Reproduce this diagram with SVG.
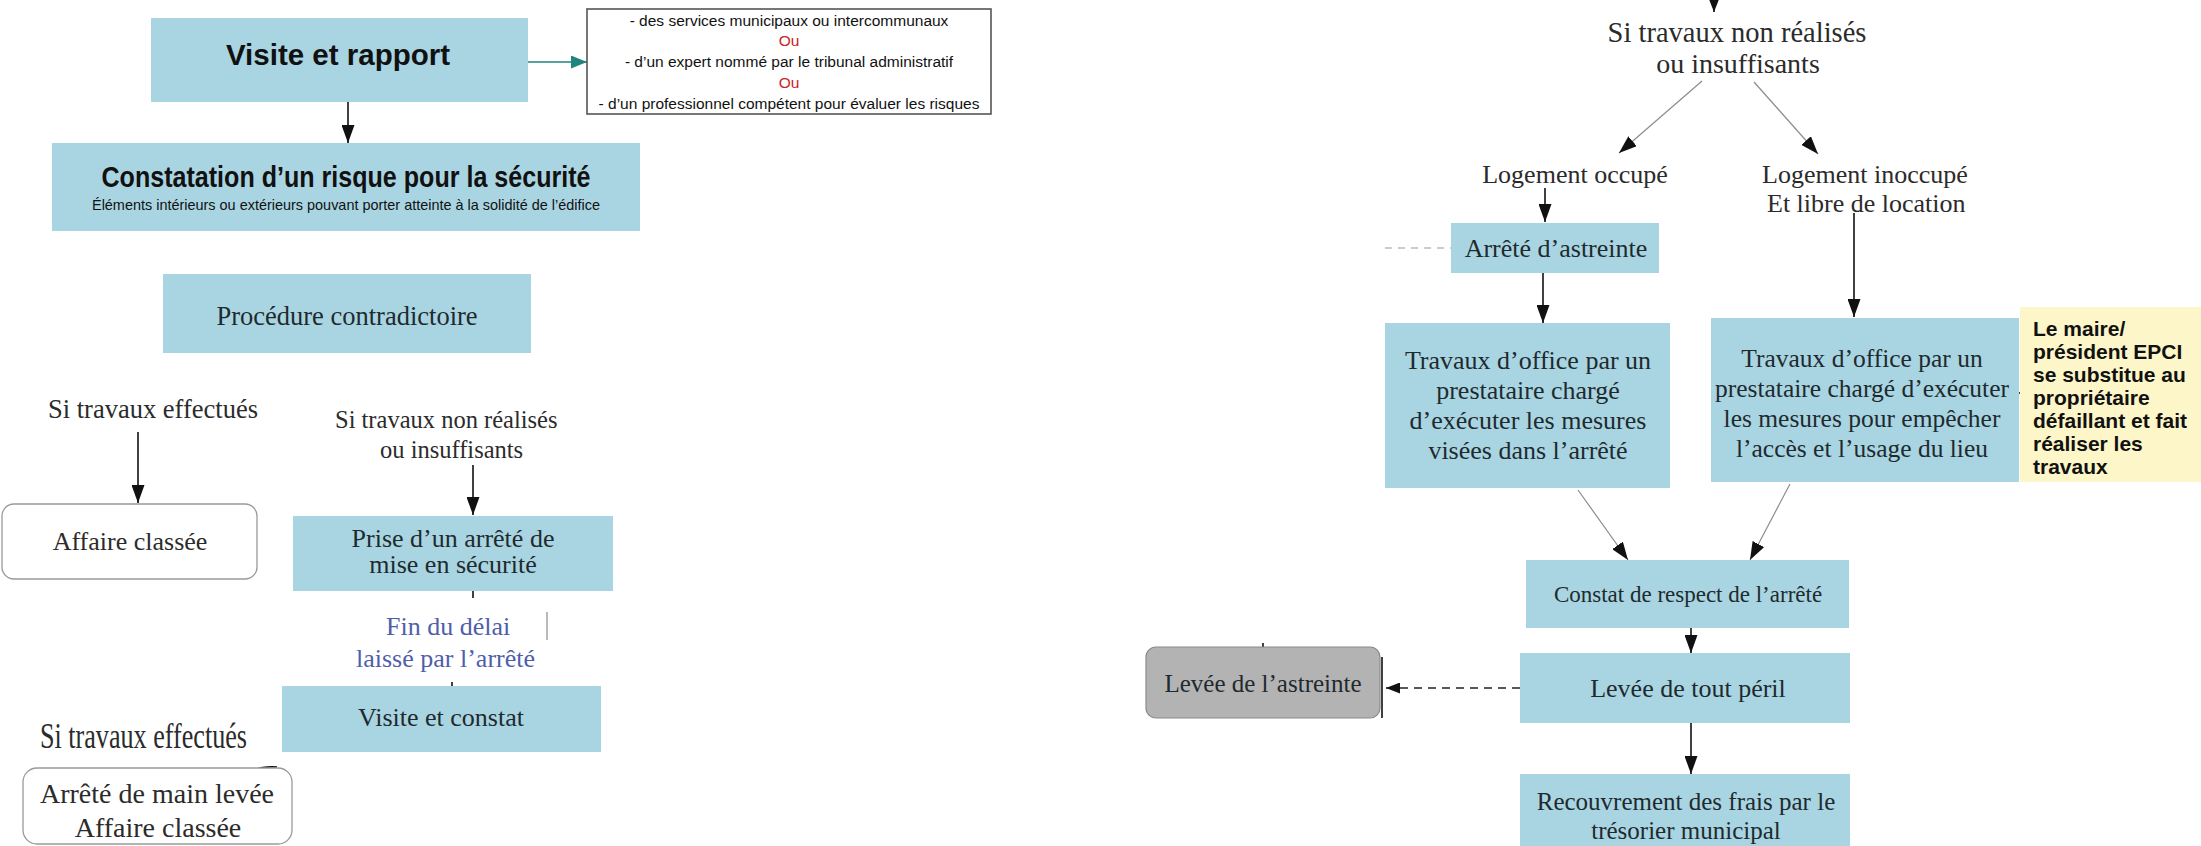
<svg xmlns="http://www.w3.org/2000/svg" width="2201" height="846" viewBox="0 0 2201 846">
<style>
.bg{fill:#ffffff}
.blue{fill:#a9d5e2}
.white{fill:#ffffff;stroke:#9a9a9a;stroke-width:1.3}
.grey{fill:#b3b3b3;stroke:#8a8a8a;stroke-width:1.2}
.yellow{fill:#fdf6c8}
.serif{font-family:"Liberation Serif","DejaVu Serif",serif;fill:#2b2b2b}
.inbox{fill:#1f2a2e}
.sans{font-family:"Liberation Sans",Arial,"DejaVu Sans",sans-serif;fill:#111}
.red{fill:#cc2222}
.bluet{fill:#4f5ea8}
.conn{stroke:#111;stroke-width:1.6;fill:none}
.thin{stroke:#8c8c8c;stroke-width:1.2;fill:none}
.dash{stroke:#999;stroke-width:1.2;stroke-dasharray:7,6;fill:none}
.dash2{stroke:#222;stroke-width:1.6;stroke-dasharray:8,6;fill:none}
.teal{stroke:#20857d;stroke-width:1.6;fill:none}
</style>
<defs>
<marker id="ah" markerUnits="userSpaceOnUse" markerWidth="14" markerHeight="11" viewBox="0 0 14 11" refX="14" refY="5.5" orient="auto"><path d="M0,0 L14,5.5 L0,11 z" fill="#111"/></marker>
<marker id="ahL" markerUnits="userSpaceOnUse" markerWidth="18" markerHeight="13" viewBox="0 0 18 13" refX="18" refY="6.5" orient="auto"><path d="M0,0 L18,6.5 L0,13 z" fill="#111"/></marker>
<marker id="ahT" markerUnits="userSpaceOnUse" markerWidth="16" markerHeight="13" viewBox="0 0 16 13" refX="16" refY="6.5" orient="auto"><path d="M0,0 L16,6.5 L0,13 z" fill="#20857d"/></marker>
</defs>
<rect class="bg" x="0" y="0" width="2201" height="846"/>

<g id="connectors">
<line class="teal" x1="528" y1="62" x2="587" y2="62" marker-end="url(#ahT)"/>
<line class="conn" x1="348" y1="102" x2="348" y2="143" marker-end="url(#ahL)"/>
<line class="conn" x1="348" y1="217" x2="348" y2="231"/>
<line class="conn" x1="138" y1="432" x2="138" y2="503" marker-end="url(#ahL)"/>
<line class="conn" x1="473" y1="465" x2="473" y2="515" marker-end="url(#ahL)"/>
<line class="conn" x1="473" y1="591" x2="473" y2="598"/>
<line class="conn" x1="452" y1="682" x2="452" y2="687"/>
<line class="thin" x1="547" y1="612" x2="547" y2="640"/>
<path class="conn" d="M252 771 Q262 766 277 767" stroke-width="2.5"/>
<line class="conn" x1="1714" y1="0" x2="1714" y2="12" marker-end="url(#ah)"/>
<line class="thin" x1="1702" y1="81" x2="1619" y2="153" marker-end="url(#ahL)"/>
<line class="thin" x1="1754" y1="82" x2="1818" y2="154" marker-end="url(#ahL)"/>
<line class="conn" x1="1545" y1="188" x2="1545" y2="222" marker-end="url(#ahL)"/>
<line class="dash" x1="1385" y1="248" x2="1451" y2="248"/>
<line class="conn" x1="1543" y1="273" x2="1543" y2="323" marker-end="url(#ahL)"/>
<line class="conn" x1="1854" y1="213" x2="1854" y2="317" marker-end="url(#ahL)"/>
<line class="conn" x1="2008" y1="393" x2="2020" y2="393"/>
<line class="thin" x1="1578" y1="490" x2="1628" y2="560" marker-end="url(#ahL)"/>
<line class="thin" x1="1790" y1="484" x2="1750" y2="560" marker-end="url(#ahL)"/>
<line class="conn" x1="1691" y1="628" x2="1691" y2="653" marker-end="url(#ahL)"/>
<line class="dash2" x1="1520" y1="688" x2="1386" y2="688" marker-end="url(#ah)"/>
<line class="conn" x1="1382" y1="657" x2="1382" y2="718" stroke-width="1"/>
<line class="conn" x1="1263" y1="643" x2="1263" y2="649"/>
<line class="conn" x1="1691" y1="723" x2="1691" y2="774" marker-end="url(#ahL)"/>
</g>

<g id="visite-rapport">
<rect class="blue" x="151" y="18" width="377" height="84"/>
<text class="sans" x="338" y="65" font-size="29.5" font-weight="bold" text-anchor="middle">Visite et rapport</text>
</g>

<g id="intervenants">
<rect x="587" y="9" width="404" height="105" fill="#ffffff" stroke="#555" stroke-width="1.6"/>
<text class="sans" x="789" y="26" font-size="15.5" text-anchor="middle">- des services municipaux ou intercommunaux</text>
<text class="sans red" x="789" y="46" font-size="15.5" text-anchor="middle">Ou</text>
<text class="sans" x="789" y="67" font-size="15.5" text-anchor="middle">- d’un expert nommé par le tribunal administratif</text>
<text class="sans red" x="789" y="88" font-size="15.5" text-anchor="middle">Ou</text>
<text class="sans" x="789" y="109" font-size="15.5" text-anchor="middle">- d’un professionnel compétent pour évaluer les risques</text>
</g>

<g id="constatation">
<rect class="blue" x="52" y="143" width="588" height="88"/>
<text class="sans" x="346" y="187" font-size="29" font-weight="bold" text-anchor="middle" textLength="489" lengthAdjust="spacingAndGlyphs">Constatation d’un risque pour la sécurité</text>
<text class="sans" x="346" y="210" font-size="15" text-anchor="middle" textLength="508" lengthAdjust="spacingAndGlyphs">Éléments intérieurs ou extérieurs pouvant porter atteinte à la solidité de l’édifice</text>
</g>

<g id="procedure">
<rect class="blue" x="163" y="274" width="368" height="79"/>
<text class="serif inbox" x="347" y="325" font-size="26.5" text-anchor="middle">Procédure contradictoire</text>
</g>

<g id="si-effectues-1">
<text class="serif" x="48" y="418" font-size="26.5">Si travaux effectués</text>
</g>

<g id="si-non-realises-1">
<text class="serif" x="335" y="428" font-size="24.5">Si travaux non réalisés</text>
<text class="serif" x="380" y="458" font-size="24.5">ou insuffisants</text>
</g>

<g id="affaire-classee-1">
<rect class="white" x="2" y="504" width="255" height="75" rx="12"/>
<text class="serif" x="130" y="550" font-size="26" text-anchor="middle">Affaire classée</text>
</g>

<g id="prise-arrete">
<rect class="blue" x="293" y="516" width="320" height="75"/>
<text class="serif inbox" x="453" y="547" font-size="26" text-anchor="middle">Prise d’un arrêté de</text>
<text class="serif inbox" x="453" y="573" font-size="26" text-anchor="middle">mise en sécurité</text>
</g>

<g id="fin-delai">
<text class="serif bluet" x="386" y="635" font-size="26">Fin du délai</text>
<text class="serif bluet" x="356" y="667" font-size="26">laissé par l’arrêté</text>
</g>

<g id="visite-constat">
<rect class="blue" x="282" y="686" width="319" height="66"/>
<text class="serif inbox" x="441" y="726" font-size="26" text-anchor="middle">Visite et constat</text>
</g>

<g id="si-effectues-2">
<text class="serif" x="40" y="748" font-size="36" textLength="207" lengthAdjust="spacingAndGlyphs">Si travaux effectués</text>
</g>

<g id="main-levee">
<rect class="white" x="23" y="768" width="269" height="76" rx="14"/>
<text class="serif" x="157" y="803" font-size="28" text-anchor="middle">Arrêté de main levée</text>
<text class="serif" x="158" y="837" font-size="28" text-anchor="middle">Affaire classée</text>
</g>

<g id="si-non-realises-2">
<text class="serif" x="1737" y="42" font-size="28.5" text-anchor="middle">Si travaux non réalisés</text>
<text class="serif" x="1738" y="73" font-size="28" text-anchor="middle">ou insuffisants</text>
</g>

<g id="logement-occupe">
<text class="serif" x="1575" y="183" font-size="26" text-anchor="middle">Logement occupé</text>
</g>

<g id="logement-inoccupe">
<text class="serif" x="1762" y="183" font-size="26">Logement inoccupé</text>
<text class="serif" x="1767" y="212" font-size="26">Et libre de location</text>
</g>

<g id="arrete-astreinte">
<rect class="blue" x="1451" y="223" width="208" height="50"/>
<text class="serif inbox" x="1556" y="257" font-size="26" text-anchor="middle">Arrêté d’astreinte</text>
</g>

<g id="travaux-occupe">
<rect class="blue" x="1385" y="323" width="285" height="165"/>
<text class="serif inbox" x="1528" y="369" font-size="26" text-anchor="middle">Travaux d’office par un</text>
<text class="serif inbox" x="1528" y="399" font-size="26" text-anchor="middle">prestataire chargé</text>
<text class="serif inbox" x="1528" y="429" font-size="26" text-anchor="middle">d’exécuter les mesures</text>
<text class="serif inbox" x="1528" y="459" font-size="26" text-anchor="middle">visées dans l’arrêté</text>
</g>

<g id="travaux-inoccupe">
<rect class="blue" x="1711" y="318" width="308" height="164"/>
<text class="serif inbox" x="1862" y="367" font-size="25.5" text-anchor="middle">Travaux d’office par un</text>
<text class="serif inbox" x="1862" y="397" font-size="25.5" text-anchor="middle">prestataire chargé d’exécuter</text>
<text class="serif inbox" x="1862" y="427" font-size="25.5" text-anchor="middle">les mesures pour empêcher</text>
<text class="serif inbox" x="1862" y="457" font-size="25.5" text-anchor="middle">l’accès et l’usage du lieu</text>
</g>

<g id="maire-note">
<rect class="yellow" x="2020" y="307" width="181" height="175"/>
<text class="sans" font-size="21" font-weight="bold">
<tspan x="2033" y="336">Le maire/</tspan>
<tspan x="2033" y="359">président EPCI</tspan>
<tspan x="2033" y="382">se substitue au</tspan>
<tspan x="2033" y="405">propriétaire</tspan>
<tspan x="2033" y="428">défaillant et fait</tspan>
<tspan x="2033" y="451">réaliser les</tspan>
<tspan x="2033" y="474">travaux</tspan>
</text>
</g>

<g id="constat-respect">
<rect class="blue" x="1526" y="560" width="323" height="68"/>
<text class="serif inbox" x="1688" y="602" font-size="23" text-anchor="middle">Constat de respect de l’arrêté</text>
</g>

<g id="levee-peril">
<rect class="blue" x="1520" y="653" width="330" height="70"/>
<text class="serif inbox" x="1688" y="697" font-size="26" text-anchor="middle">Levée de tout péril</text>
</g>

<g id="levee-astreinte">
<rect class="grey" x="1146" y="647" width="234" height="71" rx="10"/>
<text class="serif inbox" x="1263" y="692" font-size="25" text-anchor="middle">Levée de l’astreinte</text>
</g>

<g id="recouvrement">
<rect class="blue" x="1520" y="774" width="330" height="72"/>
<text class="serif inbox" x="1686" y="810" font-size="25" text-anchor="middle">Recouvrement des frais par le</text>
<text class="serif inbox" x="1686" y="839" font-size="25" text-anchor="middle">trésorier municipal</text>
</g>
</svg>
